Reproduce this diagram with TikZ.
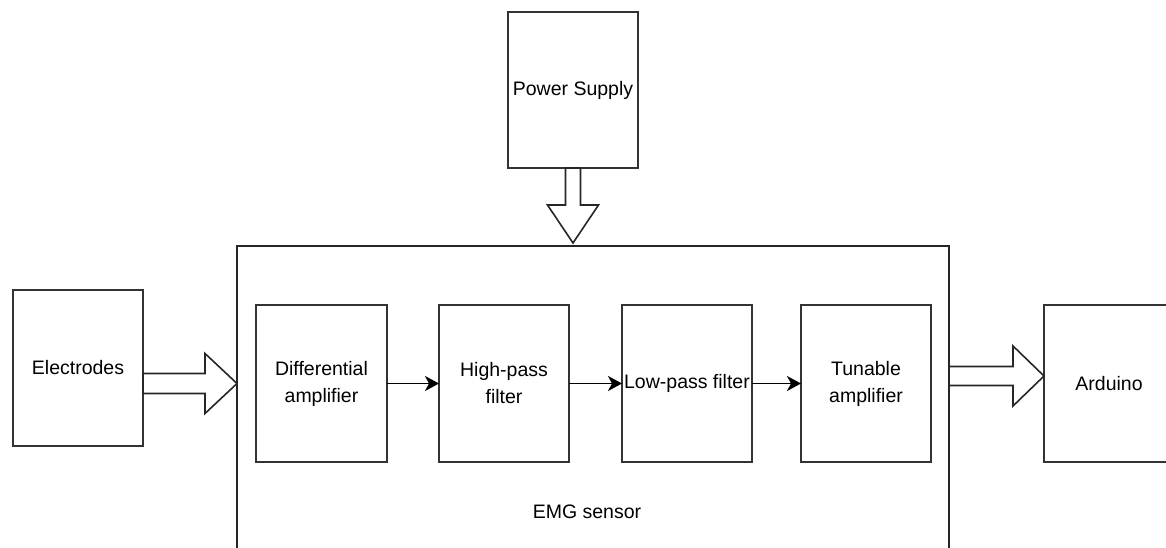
\documentclass[tikz,border=0pt]{standalone}
\usepackage{fontspec}
\setmainfont{Liberation Sans}
\usetikzlibrary{positioning, arrows.meta, calc}
\tikzset{
  >={Stealth[length=14pt, width=15pt, inset=4pt]},
  emg flow/.style={draw=black, ->, line width=1.6pt},
  emg fat/.style={draw=black!85, fill=white, line width=1.6pt, line join=miter},
  emg box/.style={draw=black!80, fill=white, align=center, line width=1.6pt,
    minimum width=130pt, minimum height=157pt, inner sep=2pt, outer sep=0pt},
  emg frame/.style={draw=black!85, line width=1.6pt, minimum width=712pt,
    minimum height=341pt, outer sep=0pt},
}

\begin{document}
\begin{tikzpicture}[x=1pt, y=1pt, node distance=52pt,
   font=\fontsize{19.5}{27}\selectfont]
 \useasboundingbox (0,0) rectangle (1166,547);
 \node[emg frame, anchor=north west] (emg) at (237,301) {};
 \node (emglabel) at (587,35) {EMG sensor};
 \node[emg box, anchor=north west, minimum height=156pt] (elec) at (13,257) {Electrodes};
 \node[emg box, anchor=north west, minimum height=156pt] (pwr) at (508,535) {Power Supply};
 \node[emg box, anchor=north west, minimum width=131pt] (diff) at (256,242)
   {Differential\\amplifier};
 \node[emg box, right=of diff] (hp) {High-pass\\filter};
 \node[emg box, right=53pt of hp] (lp) {Low-pass filter};
 \node[emg box, right=49pt of lp] (tun) {Tunable\\amplifier};
 \node[emg box, anchor=north west] (ard) at (1044,242) {Arduino};
 \foreach \a/\b in {diff/hp, hp/lp, lp/tun}
   \draw[emg flow] (\a)--(\b);
 % hollow block arrows
 \draw[emg fat] ([yshift=10pt]elec.east |- diff.center) -- ++(62,0) -- ++(0,20)
   -- (emg.west |- diff.center) -- ++(-32,-30) -- ++(0,20) -- ++(-62,0) -- cycle;
 \draw[emg fat] ([xshift=-7.5pt]pwr.south) -- ++(0,-37) -- ++(-18,0)
   -- ([yshift=3pt]pwr.south |- emg.north) -- ++(25.5,38) -- ++(-18,0) -- ++(0,37) -- cycle;
 \draw[emg fat] ([yshift=17pt]emg.east |- tun.center) -- ++(64,0) -- ++(0,20.5)
   -- ([yshift=7.5pt]ard.west) -- ++(-31,-30) -- ++(0,20.5) -- ++(-64,0) -- cycle;
\end{tikzpicture}
\end{document}
